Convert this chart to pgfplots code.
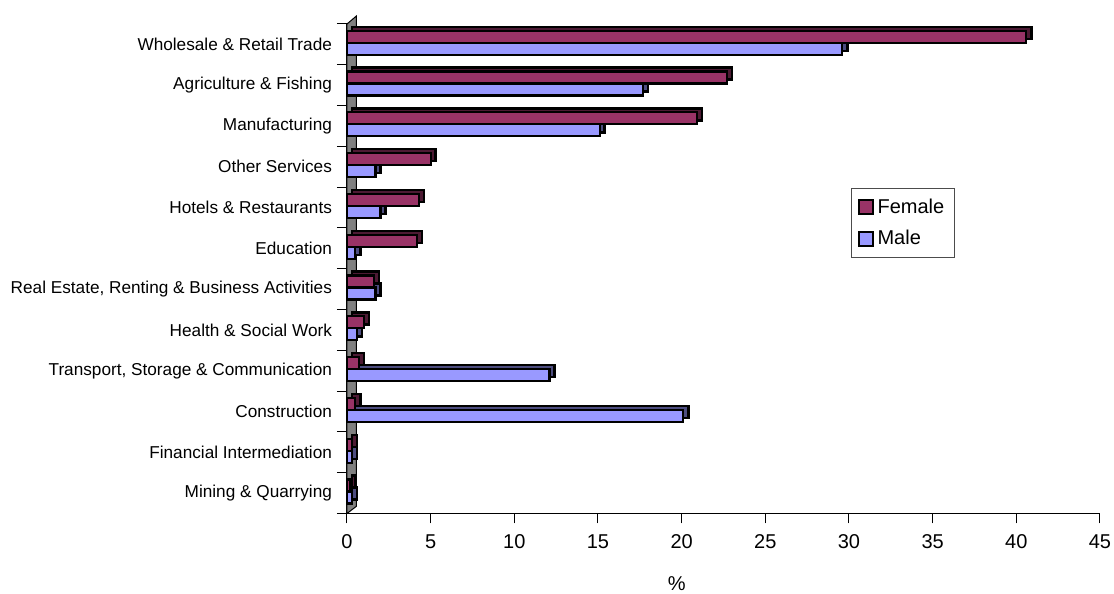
\documentclass[border=0pt]{standalone}
\usepackage{pgfplots}
\pgfplotsset{compat=1.18}
\usepackage{fontspec}
\setmainfont{Liberation Sans}
\definecolor{fem}{HTML}{993366}
\definecolor{mal}{HTML}{9999FF}
\definecolor{femd}{HTML}{4D1A33}
\definecolor{mald}{HTML}{4D4D80}
\definecolor{wall}{HTML}{808080}

% y: 0 = Mining (bottom) ... 11 = Wholesale (top)
\pgfplotstableread{
y female male
0 0.2 0.3
1 0.3 0.3
2 0.5 20.1
3 0.7 12.1
4 1.0 0.6
5 1.6 1.7
6 4.2 0.5
7 4.3 2.0
8 5.0 1.7
9 20.9 15.1
10 22.7 17.7
11 40.6 29.6
}\datatable

\begin{document}
\begin{tikzpicture}
\useasboundingbox (0,0) rectangle (557pt,297pt);
\begin{axis}[
  at={(173.5pt,40.25pt)}, anchor=south west,
  scale only axis, width=376.5pt, height=244.75pt,
  xmin=0, xmax=45, ymin=-0.5, ymax=11.5,
  clip=false,
  xbar, bar width=6pt,
  axis x line*=bottom, axis y line*=left,
  axis line style={-, black, line width=0.5pt},
  tick align=outside,
  major tick length=5pt,
  tick style={black, line width=0.5pt},
  xtick={0,5,...,45},
  /pgf/number format/assume math mode=true,
  xticklabel style={font=\fontsize{10}{12}\selectfont, yshift=-2pt},
  ytick={-0.5,0.5,...,11.5},
  yticklabels={},
  extra y ticks={0,...,11},
  extra y tick labels={Mining \& Quarrying, Financial Intermediation, Construction, {Transport, Storage \& Communication}, Health \& Social Work, {Real Estate, Renting \& Business Activities}, Education, Hotels \& Restaurants, Other Services, Manufacturing, Agriculture \& Fishing, Wholesale \& Retail Trade},
  extra y tick style={major tick length=0pt, yticklabel style={font=\fontsize{8.6}{10}\selectfont, xshift=-4pt}},
  xlabel={\%},
  x label style={font=\fontsize{10}{12}\selectfont, at={(axis description cs:0.438,-0.143)}, anchor=center},
  legend style={at={(axis description cs:0.6693,0.665)}, anchor=north west,
    draw=black!70, line width=0.6pt, font=\fontsize{10}{12}\selectfont,
    inner xsep=3pt, inner ysep=3pt, row sep=3pt},
  legend cell align=left,
  legend image code/.code={\draw[#1,draw=black,line width=1pt] (0pt,-3.5pt) rectangle (7pt,3.5pt);},
]
% back wall
\fill[wall, draw=black, line width=0.5pt] (axis cs:0,-0.5) -- ([xshift=4.7pt,yshift=3.6pt]axis cs:0,-0.5) -- ([xshift=4.7pt,yshift=4pt]axis cs:0,11.5) -- (axis cs:0,11.5) -- cycle;
% depth faces
\addplot[forget plot, bar shift=-2.2pt, fill=mald, draw=black, line width=1.2pt, xshift=2.5pt, yshift=2pt] table[x=male, y=y] {\datatable};
\addplot[forget plot, bar shift=3.8pt, fill=femd, draw=black, line width=1.2pt, xshift=2.5pt, yshift=2pt] table[x=female, y=y] {\datatable};
% front faces
\addplot[forget plot, bar shift=-2.2pt, fill=mal, draw=black, line width=1.1pt] table[x=male, y=y] {\datatable};
\addplot[bar shift=3.8pt, fill=fem, draw=black, line width=1.1pt] table[x=female, y=y] {\datatable};
\addlegendentry{Female}
\addlegendimage{fill=mal}
\addlegendentry{Male}
\end{axis}
\end{tikzpicture}
\end{document}
